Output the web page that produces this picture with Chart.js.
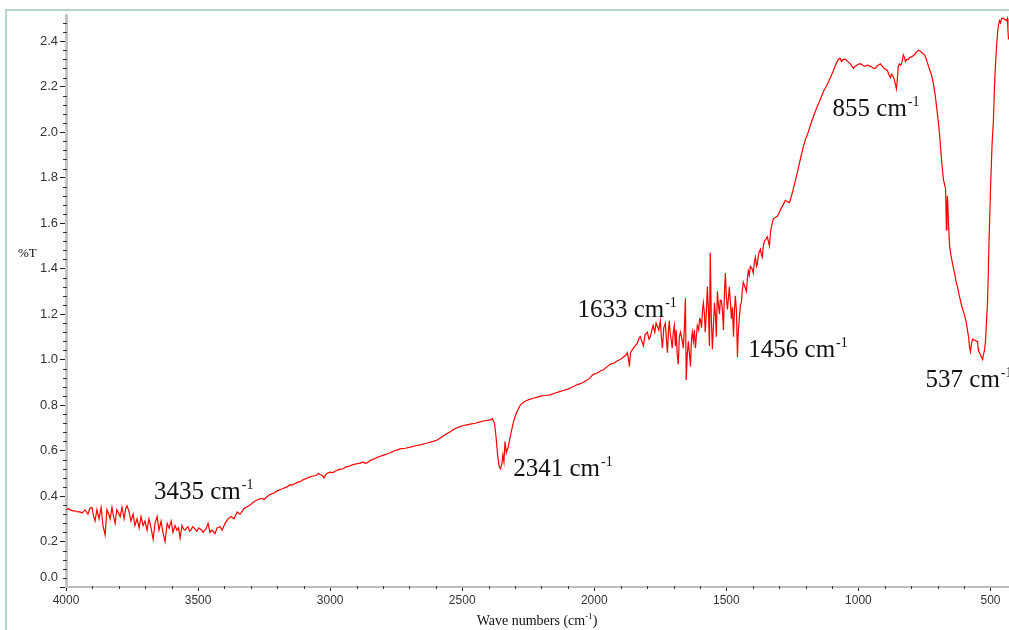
<!DOCTYPE html>
<html><head><meta charset="utf-8">
<script src="https://cdn.jsdelivr.net/npm/chart.js@4.4.1/dist/chart.umd.min.js"></script>
<style>html,body{margin:0;padding:0;background:#fff;overflow:hidden}#wrap{width:1009px;height:630px;position:relative}</style>
</head><body><div id="wrap"><canvas id="c" width="1009" height="630"></canvas></div>
<script>
const wavenumbers = [
4000,3990,3985,3975,3966,3956,3947,3938,3928,3917,3910,3902,3895,3890,3883,3875,3867,3860,3852,3845,
3838,3833,3826,3820,3814,3808,3803,3795,3788,3780,3774,3769,3761,3754,3746,3739,3731,3723,3716,3708,
3701,3693,3686,3678,3670,3663,3655,3648,3640,3633,3625,3617,3610,3602,3595,3587,3580,3574,3568,3561,
3555,3549,3543,3538,3532,3527,3521,3515,3509,3504,3498,3492,3486,3481,3475,3470,3462,3455,3449,3443,
3436,3428,3417,3409,3398,3386,3375,3364,3352,3341,3326,3314,3303,3290,3280,3273,3258,3250,3239,3230,
3220,3210,3197,3185,3174,3163,3152,3143,3133,3124,3114,3105,3095,3085,3076,3065,3053,3045,3038,3030,
3023,3016,3011,3000,2989,2980,2970,2960,2951,2940,2930,2924,2915,2905,2895,2886,2875,2868,2860,2850,
2841,2830,2822,2810,2798,2785,2773,2763,2754,2745,2735,2715,2697,2680,2659,2635,2610,2595,2583,2570,
2557,2545,2534,2520,2508,2495,2482,2465,2451,2435,2420,2405,2394,2386,2378,2372,2366,2360,2355,2350,
2346,2342,2338,2333,2327,2320,2313,2305,2295,2280,2265,2250,2231,2215,2200,2185,2167,2150,2129,2115,
2100,2085,2064,2050,2035,2020,2004,1990,1977,1965,1950,1939,1925,1912,1902,1890,1880,1875,1870,1867,
1863,1858,1852,1845,1838,1832,1826,1820,1814,1808,1799,1793,1788,1782,1777,1771,1766,1761,1756,1750,
1746,1742,1737,1731,1727,1723,1719,1716,1712,1708,1705,1701,1697,1693,1690,1686,1682,1678,1674,1668,
1663,1659,1655,1652,1648,1644,1640,1636,1632,1629,1625,1621,1617,1613,1610,1605,1601,1598,1594,1590,
1587,1583,1580,1576,1572,1568,1564,1561,1557,1553,1549,1545,1541,1538,1534,1530,1526,1523,1519,1515,
1511,1507,1504,1500,1496,1492,1489,1485,1481,1477,1473,1470,1466,1462,1458,1455,1451,1447,1443,1440,
1436,1430,1424,1420,1417,1413,1409,1403,1398,1394,1390,1386,1383,1377,1371,1367,1364,1360,1356,1350,
1345,1341,1337,1333,1330,1326,1322,1315,1307,1300,1295,1285,1277,1270,1261,1256,1250,1240,1230,1220,
1210,1200,1190,1182,1170,1157,1144,1132,1120,1106,1095,1085,1076,1070,1064,1057,1049,1040,1030,1025,
1019,1012,1005,998,992,985,978,973,965,960,955,948,942,936,930,924,917,910,902,896,
890,884,879,875,871,867,864,860,856,853,849,845,841,837,833,830,826,822,817,811,
805,799,794,788,782,777,773,767,761,755,750,746,740,735,729,723,716,710,705,701,
697,693,689,684,678,674,670,667,665,663,659,655,650,645,640,636,630,625,620,614,
608,602,595,590,586,583,580,576,572,568,563,557,553,549,547,545,541,538,534,530,
527,523,519,515,511,506,500,494,489,485,481,477,473,470,466,462,458,451,445,439,
436,434,432,430
];
const transmittance = [
0.34,0.345,0.34,0.335,0.335,0.33,0.33,0.325,0.34,0.32,0.345,0.35,0.31,0.29,0.34,0.30,0.35,0.27,0.23,0.34,
0.32,0.30,0.35,0.31,0.28,0.34,0.33,0.31,0.35,0.30,0.345,0.357,0.33,0.29,0.32,0.27,0.30,0.26,0.31,0.27,
0.29,0.25,0.30,0.26,0.21,0.28,0.31,0.25,0.29,0.24,0.20,0.28,0.26,0.29,0.24,0.27,0.25,0.26,0.215,0.27,
0.255,0.25,0.26,0.265,0.245,0.25,0.265,0.26,0.25,0.245,0.26,0.255,0.25,0.24,0.25,0.255,0.28,0.24,0.25,0.245,
0.235,0.26,0.265,0.25,0.28,0.30,0.31,0.30,0.33,0.32,0.345,0.353,0.36,0.374,0.38,0.385,0.39,0.385,0.397,0.405,
0.41,0.415,0.425,0.43,0.435,0.44,0.45,0.448,0.455,0.46,0.463,0.47,0.475,0.48,0.484,0.488,0.49,0.50,0.495,0.49,
0.48,0.495,0.50,0.505,0.503,0.51,0.515,0.518,0.52,0.528,0.53,0.533,0.538,0.54,0.543,0.545,0.55,0.544,0.546,0.555,
0.56,0.565,0.57,0.575,0.58,0.585,0.59,0.595,0.60,0.603,0.607,0.61,0.615,0.62,0.625,0.632,0.64,0.646,0.655,0.665,
0.675,0.683,0.692,0.70,0.705,0.71,0.713,0.717,0.72,0.725,0.73,0.733,0.735,0.74,0.72,0.66,0.58,0.53,0.52,0.54,
0.58,0.55,0.64,0.59,0.61,0.65,0.69,0.73,0.765,0.80,0.815,0.823,0.83,0.835,0.84,0.842,0.845,0.852,0.86,0.865,
0.87,0.878,0.89,0.895,0.905,0.915,0.935,0.94,0.95,0.955,0.97,0.98,0.985,0.995,1.00,1.01,1.02,1.03,1.0,0.97,
1.03,1.04,1.05,1.06,1.07,1.09,1.10,1.08,1.06,1.11,1.12,1.09,1.10,1.13,1.15,1.12,1.16,1.145,1.13,1.17,
1.10,1.05,1.14,1.16,1.09,1.03,1.13,1.17,1.11,1.08,1.05,1.12,1.15,1.06,1.13,1.02,0.98,1.10,1.12,1.09,
1.05,1.14,1.27,0.91,1.02,1.08,1.03,0.97,1.09,1.12,1.08,1.13,1.05,1.11,1.15,1.13,1.18,1.176,1.14,1.22,
1.25,1.20,1.12,1.20,1.32,1.22,1.06,1.47,1.18,1.045,1.15,1.25,1.19,1.10,1.30,1.24,1.20,1.26,1.26,1.22,
1.13,1.30,1.38,1.28,1.22,1.27,1.32,1.26,1.18,1.23,1.10,1.20,1.28,1.22,1.01,1.12,1.18,1.24,1.25,1.30,
1.34,1.32,1.30,1.36,1.39,1.37,1.41,1.40,1.38,1.43,1.45,1.41,1.42,1.47,1.485,1.46,1.45,1.50,1.52,1.53,
1.54,1.52,1.50,1.56,1.58,1.60,1.62,1.625,1.63,1.645,1.66,1.68,1.70,1.695,1.69,1.71,1.735,1.78,1.83,1.88,
1.93,1.97,2.00,2.03,2.07,2.11,2.145,2.18,2.205,2.24,2.27,2.30,2.32,2.325,2.31,2.32,2.32,2.31,2.30,2.29,
2.28,2.29,2.295,2.30,2.30,2.295,2.29,2.29,2.295,2.29,2.29,2.285,2.28,2.28,2.29,2.295,2.30,2.29,2.28,2.275,
2.27,2.25,2.24,2.255,2.25,2.24,2.23,2.21,2.19,2.23,2.29,2.30,2.295,2.30,2.32,2.34,2.33,2.31,2.32,2.32,
2.33,2.33,2.335,2.34,2.35,2.355,2.36,2.357,2.35,2.345,2.34,2.33,2.31,2.29,2.27,2.25,2.21,2.17,2.12,2.08,
2.04,1.99,1.93,1.86,1.79,1.77,1.75,1.57,1.68,1.72,1.60,1.50,1.46,1.43,1.40,1.38,1.34,1.32,1.29,1.26,
1.23,1.21,1.18,1.15,1.12,1.10,1.06,1.035,1.07,1.09,1.085,1.085,1.08,1.08,1.05,1.035,1.03,1.02,1.01,1.00,
1.02,1.04,1.08,1.17,1.26,1.50,1.75,1.95,2.05,2.20,2.30,2.38,2.44,2.47,2.49,2.48,2.50,2.50,2.495,2.49,
2.50,2.45,2.41,2.41
];
const xTickValues = [4000,3500,3000,2500,2000,1500,1000,500];
const yTickValues = [0.0,0.2,0.4,0.6,0.8,1.0,1.2,1.4,1.6,1.8,2.0,2.2,2.4];
const peakLabels = ['3435','2341','1633','1456','855','537'];
const peakLabelWn = [3667,2307,2064,1417,1098,746];
const peakLabelT = [0.388,0.489,1.185,1.013,2.07,0.881];

const points = wavenumbers.map((w,i)=>({x:w,y:transmittance[i]}));

const decor = {
  id:'decor',
  beforeDraw(chart){
    const ctx = chart.ctx;
    ctx.save();
    ctx.fillStyle = '#fff';
    ctx.fillRect(0,0,chart.width,chart.height);
    ctx.strokeStyle = '#b6d4c2';
    ctx.lineWidth = 2;
    ctx.beginPath();
    ctx.moveTo(6,chart.height);
    ctx.lineTo(6,10);
    ctx.lineTo(chart.width,10);
    ctx.stroke();
    ctx.restore();
  },
  afterDraw(chart){
    const ctx = chart.ctx;
    const xs = chart.scales.x, ys = chart.scales.y;
    ctx.save();
    ctx.strokeStyle = '#333';
    ctx.lineWidth = 1;
    for (let k=1;k<63;k++){
      if (k%5===0) continue;
      const py = Math.round(ys.getPixelForValue(k*0.04))+0.5;
      ctx.beginPath(); ctx.moveTo(63,py); ctx.lineTo(67,py); ctx.stroke();
    }
    for (let w=3900; w>430; w-=100){
      if (w%500===0) continue;
      const px = Math.round(xs.getPixelForValue(w))+0.5;
      ctx.beginPath(); ctx.moveTo(px,586); ctx.lineTo(px,589); ctx.stroke();
    }
    // raised 0.0 label (as in the reference)
    ctx.fillStyle = '#333';
    ctx.font = '13px "Liberation Sans"';
    ctx.textAlign = 'right';
    ctx.textBaseline = 'middle';
    ctx.fillText(yTickValues[0].toFixed(1), 58, ys.getPixelForValue(0) - 10);
    // %T label
    ctx.fillStyle = '#111';
    ctx.font = '13px "Liberation Serif"';
    ctx.textBaseline = 'alphabetic';
    ctx.textAlign = 'left';
    ctx.fillText('%T',18,257);
    // axis title
    const main = 'Wave numbers (cm', sup = '-1', tail = ')';
    ctx.font = '14px "Liberation Serif"';
    const w1 = ctx.measureText(main).width, w3 = ctx.measureText(tail).width;
    ctx.font = '9px "Liberation Serif"';
    const w2 = ctx.measureText(sup).width;
    let tx = 537 - (w1+w2+w3)/2;
    ctx.font = '14px "Liberation Serif"';
    ctx.fillText(main,tx,625);
    ctx.font = '9px "Liberation Serif"';
    ctx.fillText(sup,tx+w1,619);
    ctx.font = '14px "Liberation Serif"';
    ctx.fillText(tail,tx+w1+w2,625);
    // peak annotations
    for (let i=0;i<peakLabels.length;i++){
      const px = xs.getPixelForValue(peakLabelWn[i]);
      const py = ys.getPixelForValue(peakLabelT[i]);
      ctx.font = '25px "Liberation Serif"';
      const t = peakLabels[i]+' cm';
      ctx.fillText(t,px,py);
      const tw = ctx.measureText(t).width;
      ctx.font = '14px "Liberation Serif"';
      ctx.fillText('-1',px+tw+1,py-10);
    }
    ctx.restore();
  }
};

new Chart(document.getElementById('c'),{
  type:'line',
  data:{datasets:[{data:points,borderColor:'#ff0000',borderWidth:1.2,pointRadius:0,tension:0,fill:false}]},
  options:{
    responsive:false,animation:false,devicePixelRatio:1,
    layout:{padding:{left:0,right:0,top:15,bottom:0}},
    plugins:{legend:{display:false},tooltip:{enabled:false}},
    scales:{
      x:{type:'linear',reverse:true,min:430,max:4000,
        afterBuildTicks:s=>{s.ticks=xTickValues.map(v=>({value:v}));},
        afterFit:s=>{s.height=43;},
        ticks:{autoSkip:false,maxRotation:0,padding:2,color:'#333',font:{family:'Liberation Sans',size:12},callback:v=>String(v)},
        grid:{drawOnChartArea:false,drawTicks:true,tickLength:4,color:'#222',tickWidth:1},
        border:{display:true,color:'#bdbdbd',width:2}
      },
      y:{min:0,max:2.515,
        afterBuildTicks:s=>{s.ticks=yTickValues.map(v=>({value:v}));},
        afterFit:s=>{s.width=66;},
        ticks:{padding:2,color:'#333',font:{family:'Liberation Sans',size:13},callback:v=>(Number(v)===0?'':Number(v).toFixed(1))},
        grid:{drawOnChartArea:false,drawTicks:true,tickLength:6,color:'#222',tickWidth:1},
        border:{display:true,color:'#c4c4c4',width:3}
      }
    }
  },
  plugins:[decor]
});
</script></body></html>
